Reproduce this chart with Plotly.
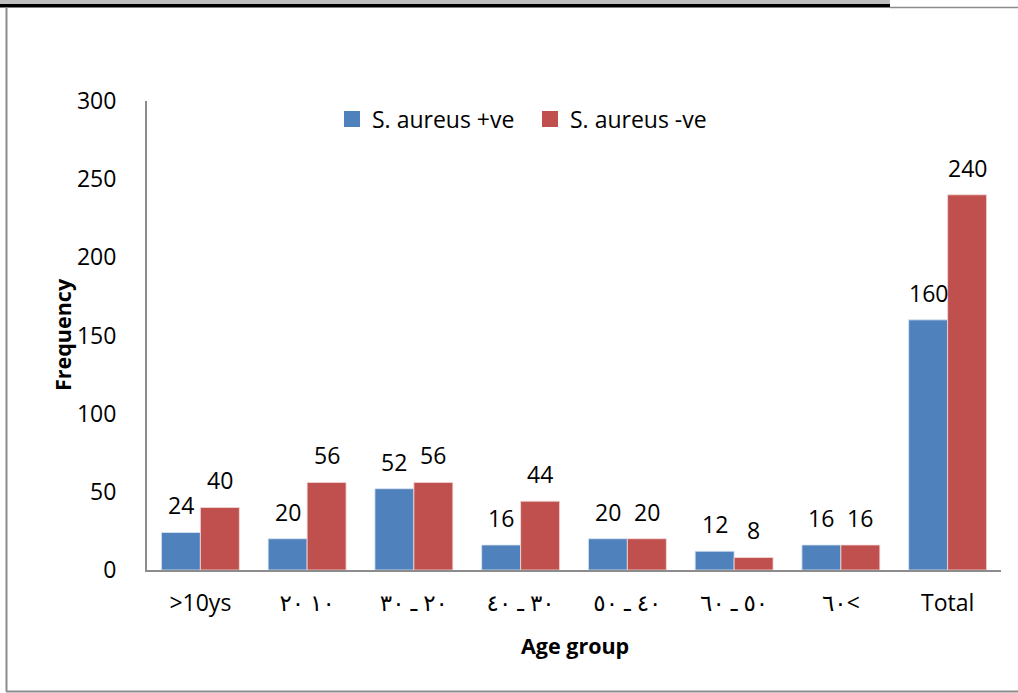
import plotly.graph_objects as go

categories = [">10ys",
              "\u202d٢٠ ١٠\u202c",
              "\u202d٣٠ ـ ٢٠\u202c",
              "\u202d٤٠ ـ ٣٠\u202c",
              "\u202d٥٠ ـ ٤٠\u202c",
              "\u202d٦٠ ـ ٥٠\u202c",
              "\u202d٦٠<\u202c",
              "Total"]
pos_values = [24, 20, 52, 16, 20, 12, 16, 160]
neg_values = [40, 56, 56, 44, 20, 8, 16, 240]
series_names = ["S. aureus +ve", "S. aureus -ve"]
series_colors = ["#4F81BD", "#C0504D"]
y_ticks = [0, 50, 100, 150, 200, 250, 300]

FONT = "Open Sans, DejaVu Sans, sans-serif"
W, H = 1018, 693
L, R, T, B = 147, 1001, 101, 570
BARGAP = 0.27

def px(x):
    return (x - L) / (R - L)

def py(y):
    return (B - y) / (B - T)

fig = go.Figure()
fig.add_trace(go.Bar(x=categories, y=pos_values, name=series_names[0], showlegend=False,
                     marker=dict(color=series_colors[0], line=dict(color="#DCE6F2", width=0.8))))
fig.add_trace(go.Bar(x=categories, y=neg_values, name=series_names[1], showlegend=False,
                     marker=dict(color=series_colors[1], line=dict(color="#F2DCDB", width=0.8))))
# legend entries with larger square keys
for name, col in zip(series_names, series_colors):
    fig.add_trace(go.Scatter(x=[None], y=[None], mode="markers", name=name,
                             marker=dict(symbol="square", size=16, color=col)))

# data labels placed from the data via the axes
cat_w = (R - L) / len(categories)
bar_w = cat_w * (1 - BARGAP) / 2
annotations = []
for vals, sh in ((pos_values, -bar_w / 2), (neg_values, bar_w / 2)):
    for c, v in zip(categories, vals):
        annotations.append(dict(x=c, y=v, xref="x", yref="y", text=str(v), showarrow=False,
                                xshift=sh, yshift=27, xanchor="center", yanchor="middle",
                                font=dict(size=23, family=FONT, color="black")))

annotations += [
    dict(text="<b>Frequency</b>", xref="paper", yref="paper", x=px(62), y=py(335),
         textangle=-90, showarrow=False, font=dict(size=21.5, family=FONT, color="black"),
         xanchor="center", yanchor="middle"),
    dict(text="<b>Age group</b>", xref="paper", yref="paper", x=px(575), y=py(645),
         showarrow=False, font=dict(size=21.5, family=FONT, color="black"),
         xanchor="center", yanchor="middle"),
]

shapes = [
    dict(type="rect", xref="paper", yref="paper", x0=px(0), x1=px(890), y0=py(0), y1=py(4),
         fillcolor="#BFBFBF", line=dict(width=0)),
    dict(type="rect", xref="paper", yref="paper", x0=px(0), x1=px(890), y0=py(4), y1=py(7.5),
         fillcolor="black", line=dict(width=0)),
    dict(type="line", xref="paper", yref="paper", x0=px(890), x1=px(1018), y0=py(7.5), y1=py(7.5),
         line=dict(color="#8C8C8C", width=1.5)),
    dict(type="line", xref="paper", yref="paper", x0=px(6.5), x1=px(6.5), y0=py(7), y1=py(691.5),
         line=dict(color="#8C8C8C", width=2)),
    dict(type="line", xref="paper", yref="paper", x0=px(6), x1=px(1018), y0=py(691.5), y1=py(691.5),
         line=dict(color="#8C8C8C", width=2)),
]

fig.update_layout(
    width=W, height=H,
    margin=dict(l=L, r=W - R, t=T, b=H - B, pad=0),
    paper_bgcolor="white", plot_bgcolor="white",
    barmode="group", bargap=BARGAP, bargroupgap=0,
    font=dict(family=FONT, size=23, color="black"),
    showlegend=True,
    legend=dict(orientation="h", x=px(332), y=py(119), xanchor="left", yanchor="middle",
                font=dict(size=23, family=FONT), itemwidth=30, tracegroupgap=0,
                entrywidth=153, entrywidthmode="pixels",
                bgcolor="rgba(0,0,0,0)"),
    shapes=shapes,
    annotations=annotations,
)
fig.update_xaxes(showline=True, linecolor="#8C8C8C", linewidth=2, showgrid=False,
                 ticks="", tickfont=dict(size=23, family=FONT), ticklabelstandoff=11,
                 zeroline=False)
fig.update_yaxes(range=[0, 300], tickvals=y_ticks, showline=True, linecolor="#8C8C8C", linewidth=2,
                 showgrid=False, ticks="", tickfont=dict(size=23, family=FONT),
                 ticklabelstandoff=24, zeroline=False)

fig.write_html("out.html", config={"displayModeBar": False},
               post_script="document.body.style.margin='0';document.body.style.padding='0';")
